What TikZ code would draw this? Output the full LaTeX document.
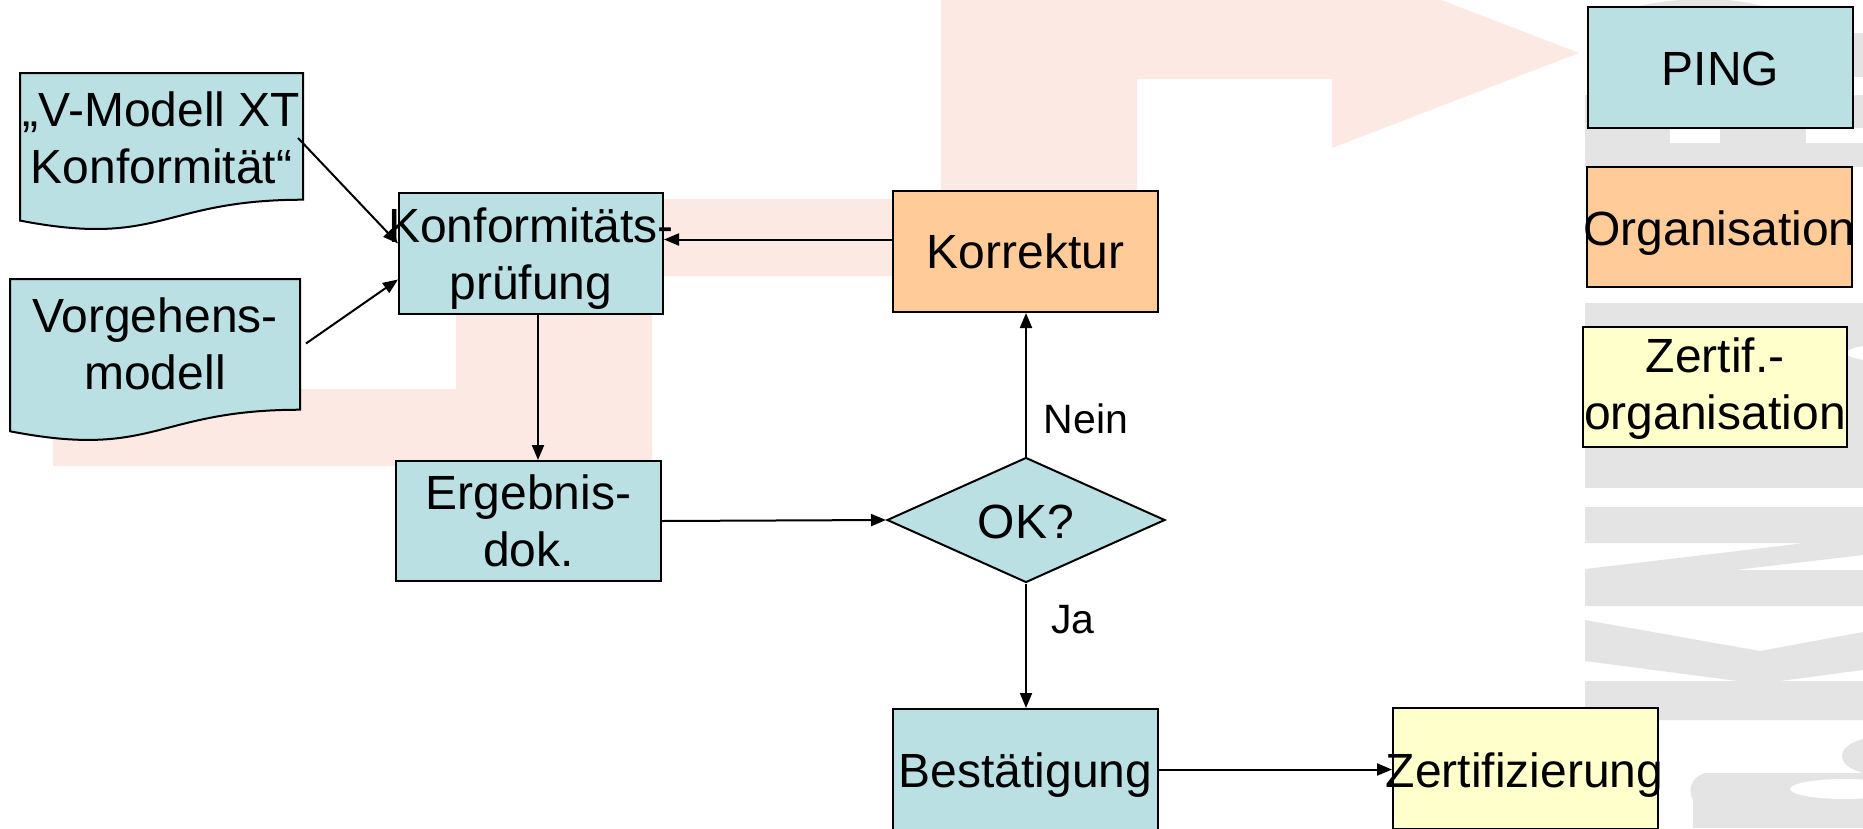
\documentclass[tikz,border=0pt]{standalone}
\usepackage{fontspec}
\setmainfont{Liberation Sans}
\usetikzlibrary{arrows.meta,shapes.geometric,calc}
\definecolor{boxblue}{HTML}{BBE0E3}
\definecolor{boxorange}{HTML}{FFCC99}
\definecolor{boxyellow}{HTML}{FFFFCC}
\definecolor{wmpink}{HTML}{FDE9E3}
\definecolor{wmgray}{HTML}{E4E4E4}
\begin{document}
\begin{tikzpicture}[x=1pt,y=-1pt,
  box/.style={draw=black, line width=2pt, inner sep=0pt, minimum width=265pt, minimum height=121pt},
  bluebox/.style={box, fill=boxblue},
  orangebox/.style={box, fill=boxorange},
  yellowbox/.style={box, fill=boxyellow},
  docarea/.style={draw=none, inner sep=0pt, outer sep=0pt},
  docshape/.style={draw=black, line width=2pt, fill=boxblue},
  txt/.style={font=\fontsize{48}{57}\selectfont, align=center, inner sep=0pt},
  lbl/.style={font=\fontsize{41}{49}\selectfont, inner sep=0pt},
  conn/.style={line width=2pt, -{Triangle[length=15pt,width=12pt]}}
]
\useasboundingbox (0,0) rectangle (1863,828);
\clip (0,0) rectangle (1863,828);
\fill[white] (0,0) rectangle (1863,828);

% watermark: pink stepped arrow
\fill[wmpink] (53,466) -- (652,466) -- (652,276) -- (1137,276) -- (1137,79) -- (1332,79)
  -- (1332,148) -- (1579,53) -- (1332,-42) -- (1332,-10) -- (941,-10) -- (941,199)
  -- (456,199) -- (456,389) -- (53,389) -- cycle;

% watermark: grey letters on the right
\fill[wmgray] (1630,8) .. controls (1680,-4) and (1730,-4) .. (1770,8) -- cycle;
\fill[wmgray] (1853,33) rectangle (1863,77);
\fill[wmgray] (1585,95) rectangle (1863,167);
\fill[white] (1670,128) rectangle (1720,143);
\fill[white] (1806,128) rectangle (1863,143);
\fill[wmgray] (1585,303) rectangle (1863,488);
\fill[white] (1880,353) ellipse [x radius=33, y radius=8];
\fill[wmgray] (1585,507) -- (1863,507) -- (1863,555) -- (1735,570) -- (1863,570) -- (1863,606)
  -- (1585,606) -- (1585,569) -- (1805,543) -- (1585,543) -- cycle;
\fill[wmgray] (1585,620) -- (1760,651) -- (1863,632) -- (1863,670) -- (1780,681) -- (1863,681)
  -- (1863,720) -- (1585,720) -- (1585,681) -- (1738,681) -- (1585,661) -- cycle;
\fill[wmgray] (1880,756) ellipse [x radius=38, y radius=19];
\fill[wmgray] (1705,773) -- (1863,773) -- (1863,828) -- (1693,828) -- (1693,800)
  .. controls (1688,790) and (1690,778) .. (1705,773) -- cycle;
\fill[white] (1845,789) ellipse [x radius=55, y radius=10];

% document shapes
\node[docarea, minimum width=283pt, minimum height=158pt] (doc1) at (161.5,152) {};
\draw[docshape] (doc1.north west) -- (doc1.north east)
  -- ($(doc1.north east)!0.802!(doc1.south east)$)
  .. controls ($(doc1.north)!0.802!(doc1.south)$) and ($(doc1.north)!1.1075!(doc1.south)$)
  .. ($(doc1.north west)!0.934!(doc1.south west)$) -- cycle;
\node[txt] (doc1t) at (161.5,138) {„V-Modell XT\\Konformität“};

\node[docarea, minimum width=290pt, minimum height=163pt] (doc2) at (155,360.5) {};
\draw[docshape] (doc2.north west) -- (doc2.north east)
  -- ($(doc2.north east)!0.802!(doc2.south east)$)
  .. controls ($(doc2.north)!0.802!(doc2.south)$) and ($(doc2.north)!1.1075!(doc2.south)$)
  .. ($(doc2.north west)!0.934!(doc2.south west)$) -- cycle;
\node[txt] (doc2t) at (155,344) {Vorgehens-\\modell};

% process boxes
\node[bluebox, minimum width=264pt] (konf) at (531,253.5) {};
\node[txt] (konft) at (531,259) {Konformitäts-\\prüfung};

\node[bluebox, minimum height=120pt] (ergebnis) at (528.5,521) {};
\node[txt] (ergebnist) at (528.5,521) {Ergebnis-\\dok.};

\node[orangebox] (korr) at (1025.5,251.5) {};
\node[txt, anchor=base] (korrt) at (1025.5,268) {Korrektur};

\node[diamond, draw=black, line width=2pt, fill=boxblue, inner sep=0pt, aspect=2.2,
  minimum width=278pt, minimum height=125pt] (ok) at (1026,520) {};
\node[txt, anchor=base] (okt) at (1026,538) {OK?};

\node[bluebox] (best) at (1025.5,769.5) {};
\node[txt, anchor=base] (bestt) at (1025.5,787) {Bestätigung};

\node[yellowbox] (zert) at (1525.5,768.5) {};
\node[txt, anchor=base] (zertt) at (1524.5,787) {Zertifizierung};

% legend
\node[bluebox] (ping) at (1720.5,67.5) {};
\node[txt, anchor=base] (pingt) at (1720.5,85) {PING};
\node[orangebox, minimum height=120pt] (org) at (1719.5,227) {};
\node[txt, anchor=base] (orgt) at (1719.5,245) {Organisation};
\node[yellowbox, minimum width=264pt, minimum height=120pt] (zorg) at (1715,387) {};
\node[txt] (zorgt) at (1715,389) {Zertif.-\\organisation};

% labels
\node[lbl, anchor=base] (nein) at (1086,433) {Nein};
\node[lbl, anchor=base] (ja) at (1073,633) {Ja};

% connectors
\draw[conn] ([xshift=-5pt,yshift=14pt]doc1.east) -- ([yshift=10pt]konf.west);
\draw[conn] ([xshift=6pt,yshift=17pt]doc2.east) -- ([yshift=-26pt]konf.west);
\draw[conn] ([xshift=7pt]konf.south) -- ([xshift=7pt]konf.south |- ergebnis.north);
\draw[conn] (ergebnis.east) -- (ok.west);
\draw[conn] (ok.north) -- (ok.north |- korr.south);
\draw[conn] (ok.south) -- (ok.south |- best.north);
\draw[conn] ([yshift=12pt]korr.west) -- ([yshift=12pt]korr.west -| konf.east);
\draw[conn] (best.east) -- (best.east -| zert.west);
\end{tikzpicture}
\end{document}
